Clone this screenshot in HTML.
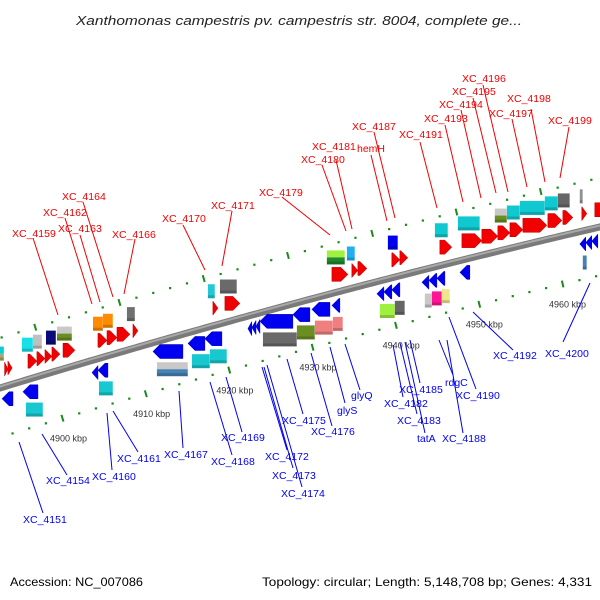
<!DOCTYPE html>
<html><head><meta charset="utf-8"><style>
html,body{margin:0;padding:0;background:#fff;}
svg{display:block;font-family:"Liberation Sans","DejaVu Sans",sans-serif;}
</style></head><body>
<svg id="chart" width="600" height="600" viewBox="0 0 600 600" xmlns="http://www.w3.org/2000/svg">
<text x="299" y="25" text-anchor="middle" font-style="italic" font-size="13" fill="#222" textLength="446" lengthAdjust="spacingAndGlyphs">Xanthomonas campestris pv. campestris str. 8004, complete ge...</text>
<g id="dots"></g>
<g id="backbone"></g>
<g id="genes"></g>
<g id="labels"></g>
<text x="10" y="586" font-size="12" fill="#000" textLength="133" lengthAdjust="spacingAndGlyphs">Accession: NC_007086</text>
<text x="262" y="586" font-size="12" fill="#000" textLength="330" lengthAdjust="spacingAndGlyphs">Topology: circular; Length: 5,148,708 bp; Genes: 4,331</text>
</svg>
<script>
// ---- data (kbp positions) ----
const fwdArrows = [[4894.7,4895.1],[4895.1,4895.6],[4897.49,4898.56],[4898.56,4899.52],[4899.52,4900.35],[4900.35,4901.31],[4901.67,4903.1],
 [4905.84,4906.92],[4906.92,4908.11],[4908.11,4909.66],[4910.02,4910.61],[4919.56,4920.16],[4920.99,4922.78],
 [4933.76,4935.67],[4936.14,4936.86],[4936.86,4937.93],[4940.91,4941.87],[4941.87,4942.82],[4946.64,4948.07],
 [4949.27,4951.65],[4951.65,4953.56],[4953.56,4955.0],[4955.0,4956.55],[4956.55,4959.41],[4959.53,4961.2],
 [4961.32,4962.51],[4963.58,4964.18],[4965.13,4966.6]];
const fwdBoxes = [[4893.2,4894.63,'#00d0d8','#a8a870'],[4896.77,4898.09,'#18e0e8'],[4898.09,4899.16,'#c0c0c0'],[4899.64,4900.83,'#0a0a7a'],
 [4900.95,4902.74,'#c8c8c8','#6b8e23'],[4905.25,4906.44,'#ff8c00'],[4906.44,4907.63,'#ff8c00'],[4909.3,4910.26,'#707070'],
 [4918.96,4919.8,'#20c8d8'],[4920.4,4922.42,'#6a6a6a'],[4933.16,4935.31,'#a0f040','#208830'],[4935.55,4936.5,'#20b0f0'],
 [4940.44,4941.63,'#0000ee'],[4946.05,4947.6,'#10c8d0'],[4948.79,4951.41,'#10c8d0'],[4953.2,4954.64,'#c8c8c8','#6b8e23'],
 [4954.64,4956.19,'#10c8d0'],[4956.19,4959.17,'#10c8d0'],[4959.17,4960.72,'#10c8d0'],[4960.72,4962.15,'#666666'],[4963.34,4963.7,'#909090']];
const revArrows = [[4894.39,4895.7],[4896.89,4898.68],[4905.13,4905.84],[4905.84,4907.03],[4912.4,4915.98],[4916.58,4918.6],[4918.6,4920.63],
 [4923.74,4924.2],[4924.2,4924.7],[4924.7,4925.17],[4925.17,4929.1],[4929.1,4931.13],[4931.37,4933.52],[4933.76,4934.71],
 [4939.13,4939.96],[4939.96,4940.91],[4940.91,4941.87],[4944.5,4945.33],[4945.33,4946.28],[4946.28,4947.24],[4949.03,4950.22],
 [4963.34,4964.05],[4964.05,4964.77],[4964.77,4965.49]];
const revBoxes = [[4897.25,4899.28,'#18c8d0'],[4905.96,4907.63,'#18c8d0'],[4912.88,4916.58,'#c8c8c8','#4682b4'],[4917.06,4919.2,'#18c8d0'],
 [4919.2,4921.23,'#18c8d0'],[4925.53,4929.58,'#6a6a6a'],[4929.58,4931.73,'#6b8e23'],[4931.73,4933.88,'#f08080'],[4933.88,4935.07,'#f08080'],
 [4939.48,4941.27,'#a0f040'],[4941.27,4942.46,'#666666'],[4944.85,4945.69,'#c8c8c8'],[4945.69,4946.88,'#ff1493'],[4946.88,4947.84,'#f0e68c'],
 [4963.7,4964.18,'#4682b4']];
const tickKbp = [4900,4910,4920,4930,4940,4950,4960];
const tickLabels = ['4900 kbp','4910 kbp','4920 kbp','4930 kbp','4940 kbp','4950 kbp','4960 kbp'];
// labels: text, x, baseline, leader x1,y1,x2,y2
const redLabels = [['XC_4164',62,200,83,202,113,297],['XC_4162',43,216,65,218,92,304],['XC_4163',58,232,80,235,100,302],
 ['XC_4159',12,237,33,238,58,315],['XC_4166',112,238,135,239,124,294],['XC_4170',162,222,183,225,205,270],['XC_4171',211,209,232,211,222,266],
 ['XC_4179',259,196,282,197,330,235],['XC_4180',301,163,322,165,346,231],['XC_4181',312,150,336,160,352,229],['hemH',357,152,371,155,387,221],
 ['XC_4187',352,130,374,132,395,218],['XC_4191',399,138,420,142,437,208],['XC_4193',424,122,445,125,463,202],['XC_4194',439,108,461,110,481,198],
 ['XC_4195',452,95,473,98,496,193],['XC_4196',462,82,483,85,508,192],['XC_4197',489,117,512,119,527,187],['XC_4198',507,102,531,109,545,182],
 ['XC_4199',548,124,569,127,560,178]];
const blueLabels = [['XC_4151',23,523,19,442,43,513],['XC_4154',46,484,42,434,67,475],['XC_4160',92,480,107,413,112,470],
 ['XC_4161',117,462,113,411,138,452],['XC_4167',164,458,179,391,183,448],['XC_4168',211,465,210,382,232,455],['XC_4169',221,441,226,377,242,432],
 ['XC_4172',265,460,262,367,287,450],['XC_4173',272,479,264,367,293,468],['XC_4174',281,497,267,365,302,487],['XC_4175',282,424,287,359,303,414],
 ['XC_4176',311,435,311,353,332,426],['glyS',337,414,330,347,345,403],['glyQ',351,399,345,344,360,390],['XC_4185',399,393,410,340,420,383],
 ['XC_4182',384,407,393,345,403,397],['XC_4183',397,424,400,343,417,414],['tatA',417,442,405,342,425,433],['rdgC',445,386,439,340,453,375],
 ['XC_4188',442,442,447,340,463,433],['XC_4190',456,399,449,317,476,389],['XC_4192',493,359,473,312,513,350],['XC_4200',545,357,590,283,563,342]];

// ---- geometry ----
const NS='http://www.w3.org/2000/svg';
function xk(k){return 49+(k-4900)*8.38;}
function yb(x){return 388-0.305*x+6.1e-5*x*x;}
function slope(x){return -0.305+2*6.1e-5*x;}
function perp(k,d){const x=xk(k),m=slope(x),n=Math.sqrt(1+m*m);return [x+d*(-m)/n,yb(x)+d/n];}
function el(tag,attrs,parent){const e=document.createElementNS(NS,tag);for(const a in attrs)e.setAttribute(a,attrs[a]);parent.appendChild(e);return e;}

// dotted rings
const gd=document.getElementById('dots');
[-48,47].forEach(d=>{
 for(let k=4888;k<=4968;k+=2){
  const p=perp(k,d);
  if(k%10===0){const a=perp(k,d-3.5),b=perp(k,d+3.5);
   const t=el('line',{x1:a[0],y1:a[1],x2:b[0],y2:b[1],stroke:'#1a8a1a','stroke-width':2},gd);
   
   
  } else {
   const c=el('rect',{x:p[0]-1,y:p[1]-1,width:2.2,height:2.2,fill:'#1a8a1a'},gd);
   
   
  }
 }
});
tickKbp.forEach((k,i)=>{const p=perp(k,68);
 const t=el('text',{x:p[0],y:p[1]+3,'text-anchor':'middle','font-size':9,fill:'#333'},gd);
 t.textContent=tickLabels[i];
 
 
});

// backbone
const gb=document.getElementById('backbone');
let dpath='';for(let x=-5;x<=605;x+=5){dpath+=(x===-5?'M':'L')+x+' '+yb(x).toFixed(2)+' ';}
el('path',{d:dpath,stroke:'#7a7a7a','stroke-width':7,fill:'none'},gb);
const hp=dpath.replace(/(\d+\.\d+) /g,(m,v)=>(parseFloat(v)-1.5).toFixed(2)+' ');
el('path',{d:hp,stroke:'#a8a8a8','stroke-width':2,fill:'none'},gb);

// genes
const gg=document.getElementById('genes');
function arrow(k0,k1,off,color,dir,name){
 const x0=xk(k0),x1=xk(k1),xc=(x0+x1)/2,yc=yb(xc)+off,h=14,w=x1-x0;
 const head=Math.min(w,7);let pts;
 if(dir>0){pts=[[x0,yc-h/2],[x1-head,yc-h/2],[x1,yc],[x1-head,yc+h/2],[x0,yc+h/2]];}
 else{pts=[[x1,yc-h/2],[x0+head,yc-h/2],[x0,yc],[x0+head,yc+h/2],[x1,yc+h/2]];}
 const p=el('polygon',{points:pts.map(q=>q.join(',')).join(' '),fill:color,stroke:dir>0?'#b00':'#00a','stroke-width':0.5},gg);
 
 
}
function box(k0,k1,off,c1,c2,name){
 const x0=xk(k0),x1=xk(k1),xc=(x0+x1)/2,yc=yb(xc)+off,h=14;
 const g=el('g',{},gg);
 
 
 if(c2){el('rect',{x:x0,y:yc-h/2,width:x1-x0,height:h/2,fill:c1},g);el('rect',{x:x0,y:yc,width:x1-x0,height:h/2,fill:c2},g);}
 else{el('rect',{x:x0,y:yc-h/2,width:x1-x0,height:h,fill:c1},g);}
 el('rect',{x:x0,y:yc+h/2-3,width:x1-x0,height:3,fill:'rgba(0,0,0,0.18)'},g);
 el('line',{x1:x1,y1:yc-h/2,x2:x1,y2:yc+h/2,stroke:'rgba(255,255,255,0.5)','stroke-width':0.7},g);
}
fwdArrows.forEach(a=>arrow(a[0],a[1],-17,'#f00000',1,'forward-gene'));
fwdBoxes.forEach(b=>box(b[0],b[1],-35,b[2],b[3],'forward-feature'));
revArrows.forEach(a=>arrow(a[0],a[1],13,'#0000f0',-1,'reverse-gene'));
revBoxes.forEach(b=>box(b[0],b[1],32,b[2],b[3],'reverse-feature'));

// labels
const gl=document.getElementById('labels');
function lab(L,color,name){
 const l=el('line',{x1:L[3],y1:L[4],x2:L[5],y2:L[6],stroke:color,'stroke-width':1},gl);
 
 
 const t=el('text',{x:L[1],y:L[2],'font-size':10.5,fill:color},gl);
 t.textContent=L[0];
 
 
}
redLabels.forEach(L=>lab(L,'#f00000','forward-gene-label'));
blueLabels.forEach(L=>lab(L,'#0000f0','reverse-gene-label'));
</script>
</body></html>
